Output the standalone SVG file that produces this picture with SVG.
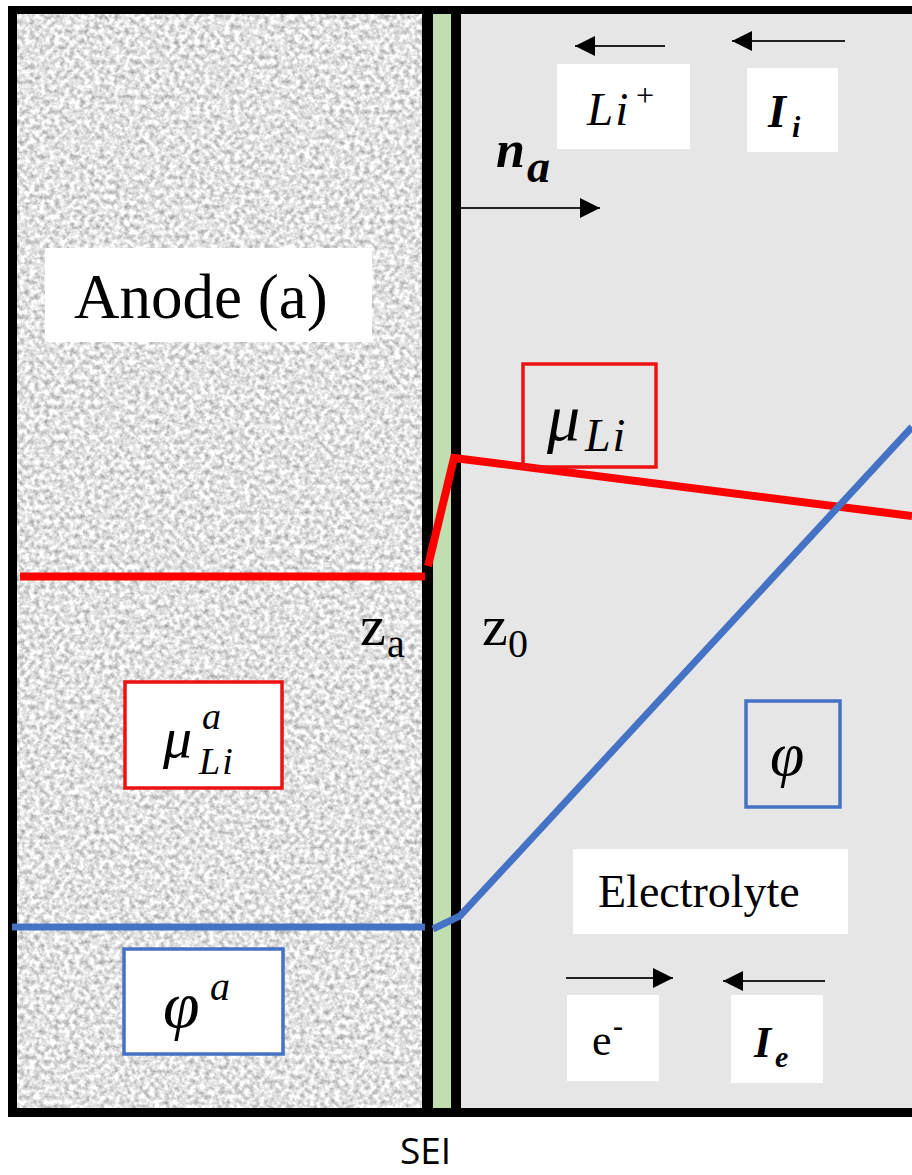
<svg xmlns="http://www.w3.org/2000/svg" width="912" height="1175" viewBox="0 0 912 1175">
<style>
.serif{font-family:"Liberation Serif","Times New Roman",serif;fill:#000}
.it{font-style:italic}
.bi{font-style:italic;font-weight:bold}
.sans{font-family:"Open Sans","Liberation Sans",sans-serif;fill:#000}
.wbox{fill:#ffffff;stroke:none}
.rbox{fill:none;stroke:#ee1111;stroke-width:3.5}
.bbox{fill:none;stroke:#4472c4;stroke-width:3.5}
.red{fill:none;stroke:#ff0000;stroke-width:8;stroke-linejoin:miter}
.blue{fill:none;stroke:#4472c4;stroke-width:7}
.arr{stroke:#222;stroke-width:2;fill:none;marker-end:url(#ah)}
.blk{fill:#000}
</style>
<defs>
<marker id="ah" markerUnits="userSpaceOnUse" markerWidth="22" markerHeight="22" refX="20" refY="10" orient="auto">
<path d="M0,0 L20,10 L0,20 Z" fill="#000"/>
</marker>
<filter id="grain" x="0" y="0" width="1" height="1" color-interpolation-filters="sRGB">
<feTurbulence type="fractalNoise" baseFrequency="0.2" numOctaves="3" seed="7"/>
<feColorMatrix type="matrix" values="0.65 0 0 0 0.56  0.65 0 0 0 0.56  0.65 0 0 0 0.56  0 0 0 0 1"/>
</filter>
</defs>
<rect width="912" height="1175" fill="#ffffff"/>
<g id="anode-region">
<rect x="17" y="14" width="405" height="1094" fill="#e4e4e4" filter="url(#grain)"/>
</g>
<g id="electrolyte-region">
<rect x="461" y="14" width="451" height="1094" fill="#e7e6e7"/>
</g>
<g id="sei-layer">
<rect x="433" y="14" width="18" height="1094" fill="#c0deb0"/>
</g>
<g id="frame">
<rect class="blk" x="8" y="6" width="904" height="8"/>
<rect class="blk" x="8" y="6" width="9" height="1111"/>
<rect class="blk" x="8" y="1108" width="904" height="9"/>
<rect class="blk" x="422" y="6" width="11" height="1111"/>
<rect class="blk" x="451" y="6" width="10" height="1111"/>
</g>
<g id="label-anode">
<rect class="wbox" x="45" y="248" width="327" height="94"/>
<text class="serif" x="74" y="318" font-size="63">Anode (a)</text>
</g>
<g id="label-electrolyte">
<rect class="wbox" x="573" y="849" width="275" height="85"/>
<text class="serif" x="598" y="907" font-size="46">Electrolyte</text>
</g>
<g id="label-li">
<rect class="wbox" x="557" y="64" width="133" height="85"/>
<text class="serif it" x="587" y="125" font-size="47" letter-spacing="2">Li</text>
<text class="serif" x="636" y="106" font-size="32">+</text>
</g>
<g id="label-Ii">
<rect class="wbox" x="747" y="68" width="91" height="84"/>
<text class="serif bi" x="768" y="127" font-size="46">I</text>
<text class="serif bi" x="792" y="137" font-size="30">i</text>
</g>
<g id="label-na">
<text class="serif bi" x="496" y="167" font-size="52">n</text>
<text class="serif bi" x="527" y="182" font-size="46">a</text>
</g>
<g id="connectors">
<polyline class="red" points="20,576.5 425,576.5"/>
<polyline class="red" points="428,566 454,458 912,516"/>
<polyline class="blue" points="12,927 425,927"/>
<polyline class="blue" points="433,929 460,916 912,427"/>
<line class="arr" x1="665" y1="46" x2="575" y2="46"/>
<line class="arr" x1="845" y1="41" x2="732" y2="41"/>
<line class="arr" x1="461" y1="208" x2="600" y2="208"/>
<line class="arr" x1="566" y1="978" x2="673" y2="978"/>
<line class="arr" x1="825" y1="981" x2="723" y2="981"/>
</g>
<g id="label-muLi">
<rect class="rbox" x="523" y="364" width="133" height="103"/>
<text class="serif it" x="547" y="440" font-size="66">μ</text>
<text class="serif it" x="585" y="451" font-size="46" letter-spacing="2">Li</text>
</g>
<g id="label-muLi-a">
<rect class="wbox" x="125" y="682" width="157" height="106"/>
<rect class="rbox" x="125" y="682" width="157" height="106"/>
<text class="serif it" x="163" y="757" font-size="58">μ</text>
<text class="serif it" x="202" y="729" font-size="38">a</text>
<text class="serif it" x="199" y="774" font-size="38" letter-spacing="2">Li</text>
</g>
<g id="label-phi">
<rect class="bbox" x="746" y="701" width="94" height="106"/>
<text class="serif it" x="770" y="775" font-size="62">φ</text>
</g>
<g id="label-phi-a">
<rect class="wbox" x="124" y="949" width="159" height="105"/>
<rect class="bbox" x="124" y="949" width="159" height="105"/>
<text class="serif it" x="163" y="1027" font-size="66">φ</text>
<text class="serif it" x="210" y="1000" font-size="40">a</text>
</g>
<g id="label-za">
<text class="serif" x="360" y="645" font-size="58">z</text>
<text class="serif" x="387" y="657" font-size="40">a</text>
</g>
<g id="label-z0">
<text class="serif" x="482" y="645" font-size="58">z</text>
<text class="serif" x="508" y="657" font-size="40">0</text>
</g>
<g id="label-e">
<rect class="wbox" x="567" y="995" width="92" height="86"/>
<text class="serif" x="592" y="1055" font-size="44">e</text>
<text class="serif" x="613" y="1036" font-size="30" font-weight="bold">-</text>
</g>
<g id="label-Ie">
<rect class="wbox" x="731" y="995" width="92" height="88"/>
<text class="serif bi" x="754" y="1057" font-size="44">I</text>
<text class="serif bi" x="775" y="1067" font-size="30">e</text>
</g>
<g id="label-sei">
<text class="sans" x="400" y="1164" font-size="37">SEI</text>
</g>
</svg>
